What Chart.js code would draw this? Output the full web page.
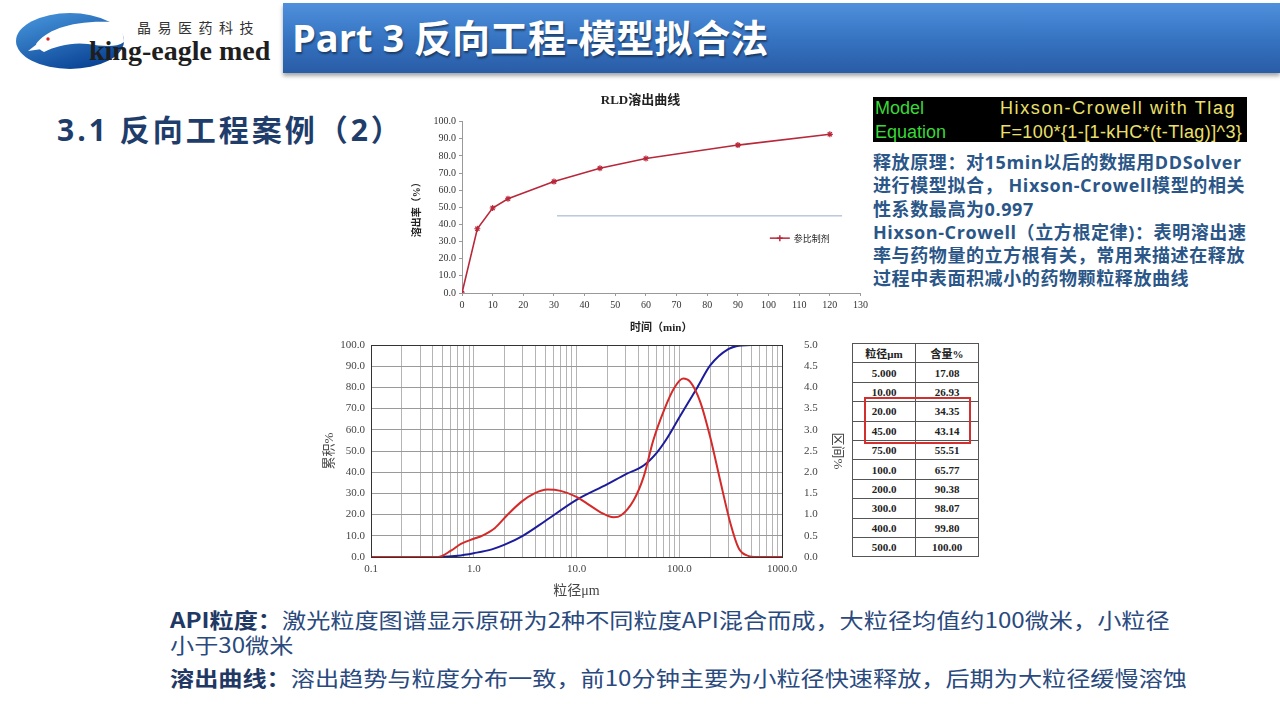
<!DOCTYPE html>
<html>
<head>
<meta charset="utf-8">
<script src="https://cdn.jsdelivr.net/npm/chart.js@4.4.1/dist/chart.umd.min.js"></script>
<style>
  body { margin: 0; width: 1280px; height: 720px; background: #fff; position: relative; overflow: hidden;
         font-family: "Noto Sans CJK SC", sans-serif; }
  .abs { position: absolute; white-space: nowrap; }
  #bar { left: 283px; top: 3px; width: 997px; height: 70px;
         background: linear-gradient(#4f8fdc, #3472c0 55%, #2a5ca6);
         box-shadow: 0 3px 4px rgba(0,0,0,.35); }
  #title { left: 292px; top: 12px; color: #fff; font: bold 38px "Open Sans", "Noto Sans CJK SC";
           line-height: 50px; text-shadow: 1px 2px 2px rgba(0,0,0,.45); }
  #sub { left: 57px; top: 109px; color: #1f3d6b; font: bold 30px "Open Sans", "Noto Sans CJK SC";
         line-height: 42px; letter-spacing: 3px; }
  #eqbox { left: 873px; top: 97px; width: 374px; height: 45px; background: #000; }
  .eq { font: 18px "Liberation Sans", Arial; line-height: 24px; }
  #note { left: 873px; top: 151px; color: #2a5688; font: bold 18px "Open Sans", "Noto Sans CJK SC";
          line-height: 23.3px; letter-spacing: 0.6px; }
  .bottom { color: #2a4a7e; font: 21px "Noto Sans CJK SC"; line-height: 25px; left: 170px;
            transform: scaleX(1.15); transform-origin: left center; }
  .bottom b { color: #1f3864; }
  #tbl { left: 852px; top: 343px; border-collapse: collapse; font: bold 11px "Liberation Serif", "Noto Sans CJK SC"; color: #222; }
  #tbl td { border: 1px solid #555; width: 62px; height: 18.4px; padding: 0; text-align: center; }
  #redbox { left: 864px; top: 397px; width: 103px; height: 43px; border: 2px solid #d2302f; }
</style>
</head>
<body>

<svg class="abs" style="left:12px;top:8px" width="150" height="66" viewBox="0 0 150 66">
  <defs>
    <linearGradient id="lg" x1="0" y1="0" x2="0.6" y2="1">
      <stop offset="0" stop-color="#4a9ae0"/>
      <stop offset="1" stop-color="#0b4596"/>
    </linearGradient>
  </defs>
  <ellipse cx="58" cy="33" rx="54" ry="28" fill="url(#lg)"/>
  <path d="M24 36 C 34 22, 60 12, 100 14 C 108 16, 112 26, 112 34 C 104 40, 90 38, 76 36 C 60 34, 44 38, 32 44 C 28 42, 26 40, 24 36 Z" fill="#fff"/>
  <path d="M25 36 L 16 43 L 30 41 Z" fill="#fff"/>
  <circle cx="36" cy="31" r="1.7" fill="#d22"/>
</svg>
<div class="abs" style="left:137px;top:16px;font:14px 'Noto Sans CJK SC';color:#333;letter-spacing:6.5px;line-height:22px">晶易医药科技</div>
<div class="abs" style="left:89px;top:34px;font:bold 28px 'Liberation Serif';color:#1e1e1e;line-height:34px">king-eagle med</div>

<div class="abs" id="bar"></div>
<div class="abs" id="title">Part 3 反向工程-模型拟合法</div>
<div class="abs" id="sub">3.1 反向工程案例（2）</div>

<div class="abs" style="left:410px;top:85px;width:461px;height:250px"><canvas id="rld"></canvas></div>
<div class="abs" style="left:320px;top:335px;width:530px;height:265px"><canvas id="psd"></canvas></div>

<div class="abs" id="eqbox"></div>
<div class="abs eq" style="left:875px;top:96px;color:#38d838">Model<br>Equation</div>
<div class="abs eq" style="left:1000px;top:96px;color:#ece06a;letter-spacing:1.6px">Hixson-Crowell with Tlag</div>
<div class="abs eq" style="left:1000px;top:120px;color:#ece06a;letter-spacing:0.4px">F=100*{1-[1-kHC*(t-Tlag)]^3}</div>
<div class="abs" id="note">释放原理：对15min以后的数据用DDSolver<br>进行模型拟合， Hixson-Crowell模型的相关<br>性系数最高为0.997<br>Hixson-Crowell（立方根定律)：表明溶出速<br>率与药物量的立方根有关，常用来描述在释放<br>过程中表面积减小的药物颗粒释放曲线</div>

<table class="abs" id="tbl"></table>
<div class="abs" id="redbox"></div>

<div class="abs bottom" style="top:607px"><b>API粒度：</b>激光粒度图谱显示原研为2种不同粒度API混合而成，大粒径均值约100微米，小粒径<br>小于30微米</div>
<div class="abs bottom" style="top:665px"><b>溶出曲线：</b>溶出趋势与粒度分布一致，前10分钟主要为小粒径快速释放，后期为大粒径缓慢溶蚀</div>

<script>
// ---------- RLD dissolution data ----------
const timePoints = [0, 5, 10, 15, 30, 45, 60, 90, 120];
const rldRelease = [0, 37.5, 49.6, 55.0, 65.0, 72.8, 78.5, 86.3, 92.6];
const guideX = [31, 124];
const guideY = [45, 45];

// ---------- particle size distribution ----------
const cumSize = [0.1, 0.3, 0.45, 0.7, 1.0, 1.5, 2, 3, 5, 10, 20, 30, 45, 60, 75, 100, 150, 200, 300, 400, 500, 1000];
const cumPct  = [0, 0, 0.05, 0.6, 1.8, 3.6, 5.8, 10, 17.08, 26.93, 34.35, 39, 43.14, 49, 55.51, 65.77, 80, 90.38, 98.07, 99.8, 100, 100];
const distSize = [0.1, 0.3, 0.45, 0.6, 0.75, 1.0, 1.2, 1.6, 2.1, 2.9, 3.9, 5.2, 7.0, 10, 12.7, 17, 23, 27, 36, 45, 56, 71, 89, 109, 128, 160, 200, 250, 315, 380, 475, 540, 1000];
const distPct  = [0, 0, 0, 0.15, 0.31, 0.43, 0.5, 0.68, 0.98, 1.3, 1.5, 1.59, 1.56, 1.42, 1.26, 1.06, 0.94, 0.98, 1.34, 1.89, 2.76, 3.46, 3.98, 4.21, 4.13, 3.66, 2.83, 1.81, 0.79, 0.2, 0.02, 0, 0];
const sizeGrid = [0.1, 0.2, 0.3, 0.4, 0.5, 0.6, 0.7, 0.8, 0.9, 1, 2, 3, 4, 5, 6, 7, 8, 9, 10, 20, 30, 40, 50, 60, 70, 80, 90, 100, 200, 300, 400, 500, 600, 700, 800, 900, 1000];
const sizeLabels = {0.1: '0.1', 1: '1.0', 10: '10.0', 100: '100.0', 1000: '1000.0'};

// ---------- table ----------
const tableSize = ['5.000', '10.00', '20.00', '45.00', '75.00', '100.0', '200.0', '300.0', '400.0', '500.0'];
const tableCum  = ['17.08', '26.93', '34.35', '43.14', '55.51', '65.77', '90.38', '98.07', '99.80', '100.00'];

const serif = "'Liberation Serif', 'Noto Sans CJK SC', serif";
Chart.defaults.font.family = serif;
Chart.defaults.color = '#333';
Chart.defaults.animation = false;

// table rows
const tbl = document.getElementById('tbl');
let html = '<tr><td>粒径μm</td><td>含量%</td></tr>';
tableSize.forEach((s, i) => { html += '<tr><td>' + s + '</td><td>' + tableCum[i] + '</td></tr>'; });
tbl.innerHTML = html;

// legend drawn inside the plot like the Excel chart
const insideLegend = {
  id: 'insideLegend',
  afterDraw(chart) {
    const a = chart.chartArea, ctx = chart.ctx;
    const x = a.left + 0.775 * (a.right - a.left);
    const y = a.top + 0.68 * (a.bottom - a.top);
    ctx.save();
    ctx.strokeStyle = '#b8283a';
    ctx.lineWidth = 1.5;
    ctx.beginPath(); ctx.moveTo(x - 1, y); ctx.lineTo(x + 19, y); ctx.stroke();
    ctx.beginPath(); ctx.moveTo(x + 9, y - 3); ctx.lineTo(x + 9, y + 3); ctx.moveTo(x + 6, y); ctx.lineTo(x + 12, y); ctx.stroke();
    ctx.fillStyle = '#222';
    ctx.font = "9px 'Noto Sans CJK SC'";
    ctx.textBaseline = 'middle';
    ctx.fillText('参比制剂', x + 23, y);
    ctx.restore();
  }
};

new Chart(document.getElementById('rld'), {
  type: 'line',
  data: {
    datasets: [{
      data: timePoints.map((t, i) => ({x: t, y: rldRelease[i]})),
      borderColor: '#b8283a',
      backgroundColor: '#b8283a',
      borderWidth: 1.6,
      pointStyle: 'star',
      pointRadius: 3,
      pointBorderWidth: 1.2,
      tension: 0
    }, {
      data: guideX.map((t, i) => ({x: t, y: guideY[i]})),
      borderColor: 'rgba(70,100,160,0.55)',
      borderWidth: 1,
      pointRadius: 0
    }]
  },
  options: {
    responsive: true,
    maintainAspectRatio: false,
    layout: { padding: 0 },
    plugins: {
      legend: { display: false },
      tooltip: { enabled: false },
      title: {
        display: true,
        text: 'RLD溶出曲线',
        color: '#222',
        font: { size: 13, weight: 'bold', family: serif },
        padding: { top: 8, bottom: 13 }
      }
    },
    scales: {
      x: {
        type: 'linear',
        min: 0, max: 130,
        afterFit: s => { s.height = 42; },
        ticks: { stepSize: 10, font: { size: 10 }, padding: 3, color: '#333' },
        grid: { drawOnChartArea: false, tickLength: 3, color: '#999' },
        border: { color: '#999' },
        title: { display: true, text: '时间（min）', font: { size: 11, weight: 'bold' }, padding: { top: 3, bottom: 0 }, color: '#222' }
      },
      y: {
        min: 0, max: 100,
        afterFit: s => { s.width = 52; },
        ticks: { stepSize: 10, font: { size: 10 }, padding: 3, color: '#333', callback: v => v.toFixed(1) },
        grid: { drawOnChartArea: false, tickLength: 3, color: '#999' },
        border: { color: '#999' },
        title: { display: true, text: '溶出率（%）', font: { size: 10, weight: 'bold' }, padding: 1, color: '#222' }
      }
    }
  },
  plugins: [insideLegend]
});

// frame around the plot
const frame = {
  id: 'frame',
  afterDraw(chart) {
    const a = chart.chartArea, ctx = chart.ctx;
    ctx.save();
    ctx.strokeStyle = '#333';
    ctx.lineWidth = 1;
    ctx.strokeRect(Math.round(a.left) + 0.5, Math.round(a.top) + 0.5, Math.round(a.right - a.left), Math.round(a.bottom - a.top));
    ctx.restore();
  }
};

new Chart(document.getElementById('psd'), {
  type: 'line',
  data: {
    datasets: [{
      data: distSize.map((s, i) => ({x: s, y: distPct[i]})),
      yAxisID: 'y2',
      borderColor: '#d42a2a',
      borderWidth: 2,
      pointRadius: 0,
      cubicInterpolationMode: 'monotone'
    }, {
      data: cumSize.map((s, i) => ({x: s, y: cumPct[i]})),
      yAxisID: 'y',
      borderColor: '#1c1c9c',
      borderWidth: 2,
      pointRadius: 0,
      cubicInterpolationMode: 'monotone'
    }]
  },
  options: {
    responsive: true,
    maintainAspectRatio: false,
    layout: { padding: { top: 10 } },
    plugins: { legend: { display: false }, tooltip: { enabled: false } },
    scales: {
      x: {
        type: 'logarithmic',
        min: 0.1, max: 1000,
        afterBuildTicks: s => { s.ticks = sizeGrid.map(v => ({value: v})); },
        afterFit: s => { s.height = 43; },
        ticks: { autoSkip: false, maxRotation: 0, font: { size: 11 }, padding: 6, color: '#444',
                 callback: v => sizeLabels[v] || '' },
        grid: { color: '#b4b4b4', drawTicks: false },
        border: { color: '#333' },
        title: { display: true, text: '粒径μm', font: { size: 14 }, padding: { top: 3, bottom: 0 }, color: '#444' }
      },
      y: {
        position: 'left',
        min: 0, max: 100,
        afterFit: s => { s.width = 51; },
        ticks: { stepSize: 10, font: { size: 11 }, padding: 2, color: '#444', callback: v => v.toFixed(1) },
        grid: { color: '#9a9a9a', drawTicks: true, tickLength: 4, tickColor: 'rgba(0,0,0,0)' },
        border: { color: '#333' },
        title: { display: true, text: '累积%', font: { size: 13 }, padding: 2, color: '#444' }
      },
      y2: {
        position: 'right',
        min: 0, max: 5,
        afterFit: s => { s.width = 68; },
        ticks: { stepSize: 0.5, font: { size: 11 }, padding: 3, color: '#444', callback: v => v.toFixed(1) },
        grid: { display: true, drawOnChartArea: false, drawTicks: true, tickLength: 19, color: 'rgba(0,0,0,0)' },
        border: { color: '#333' },
        title: { display: true, text: '区间%', font: { size: 13 }, padding: 5, color: '#444' }
      }
    }
  },
  plugins: [frame]
});
</script>
</body>
</html>
